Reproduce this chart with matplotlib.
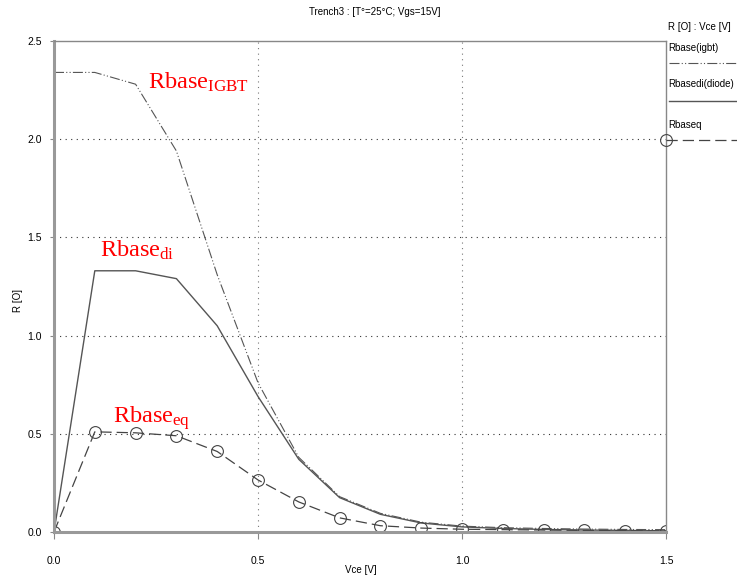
import matplotlib
matplotlib.use("Agg")
import matplotlib.pyplot as plt
from matplotlib.lines import Line2D

plt.rcParams['font.family'] = ['Liberation Sans', 'DejaVu Sans']
plt.rcParams['mathtext.fontset'] = 'custom'
plt.rcParams['mathtext.rm'] = 'Liberation Serif'
plt.rcParams['mathtext.it'] = 'Liberation Serif'

vce = [0.0, 0.1, 0.2, 0.3, 0.4, 0.5, 0.6, 0.7, 0.8, 0.9, 1.0, 1.1, 1.2, 1.3, 1.4, 1.5]
r_igbt = [2.34, 2.34, 2.28, 1.94, 1.31, 0.76, 0.38, 0.18, 0.095, 0.05, 0.03, 0.022, 0.018, 0.015, 0.013, 0.012]
r_diode = [0.0, 1.33, 1.33, 1.29, 1.05, 0.69, 0.37, 0.175, 0.09, 0.046, 0.026, 0.018, 0.013, 0.01, 0.008, 0.006]
r_eq = [0.0, 0.51, 0.505, 0.49, 0.41, 0.265, 0.153, 0.072, 0.032, 0.02, 0.014, 0.012, 0.01, 0.008, 0.007, 0.005]

xticks = [0.0, 0.5, 1.0, 1.5]
yticks = [0.0, 0.5, 1.0, 1.5, 2.0, 2.5]

W, H = 737, 577
fig = plt.figure(figsize=(W / 100, H / 100), dpi=100)
ax = fig.add_axes([54 / W, (H - 532) / H, 612 / W, 491 / H])

ax.plot(vce, r_igbt, color='#555555', lw=0.8, linestyle=(0, (9, 2, 1, 2, 1, 2)))
ax.plot(vce, r_diode, color='#555555', lw=1.0, linestyle='-')
ax.plot(vce, r_eq, color='#444444', lw=0.9, linestyle=(0, (9, 4)),
        marker='o', markersize=8.5, markerfacecolor='none', markeredgecolor='#444444',
        markeredgewidth=0.8)

ax.set_xlim(0, 1.5)
ax.set_ylim(0, 2.5)
ax.set_xticks(xticks)
ax.set_yticks(yticks)
ax.set_xticklabels([f"{t:.1f}" for t in xticks])
ax.set_yticklabels([f"{t:.1f}" for t in yticks])
ax.tick_params(axis='x', direction='out', length=5, pad=12, labelsize=7.5, color='#888888')
ax.tick_params(axis='y', direction='out', length=3, pad=6, labelsize=7.5, color='#888888')

for y in [0.5, 1.0, 1.5, 2.0]:
    ax.axhline(y, color='#333333', lw=0.8, linestyle=(0, (1, 4)), zorder=0)
for x in [0.5, 1.0]:
    ax.axvline(x, color='#777777', lw=0.8, linestyle=(0, (1, 4)), zorder=0)

for s in ['top', 'right']:
    ax.spines[s].set_color('#888888')
    ax.spines[s].set_linewidth(1.0)
for s in ['left', 'bottom']:
    ax.spines[s].set_color('#999999')
    ax.spines[s].set_linewidth(2.2)

ax.text(0.23, 2.255, r'$\mathrm{Rbase}_{\mathrm{IGBT}}$', color='red', fontsize=17.5)
ax.text(0.113, 1.40, r'$\mathrm{Rbase}_{\mathrm{di}}$', color='red', fontsize=17.5)
ax.text(0.145, 0.556, r'$\mathrm{Rbase}_{\mathrm{eq}}$', color='red', fontsize=17.5)

fig.text(375 / W, 1 - 12 / H, 'Trench3 : [T°=25°C; Vgs=15V]', ha='center', va='center', fontsize=7)
fig.text(361 / W, 1 - 570 / H, 'Vce [V]', ha='center', va='center', fontsize=7)
fig.text(18 / W, 1 - 300 / H, 'R [O]', ha='center', va='center', rotation=90, fontsize=7)

# legend (right side)
fig.text(668 / W, 1 - 27 / H, 'R [O] : Vce [V]', ha='left', va='center', fontsize=7)
fig.text(668 / W, 1 - 48 / H, 'Rbase(igbt)', ha='left', va='center', fontsize=7)
fig.text(668 / W, 1 - 84 / H, 'Rbasedi(diode)', ha='left', va='center', fontsize=7)
fig.text(668 / W, 1 - 125 / H, 'Rbaseq', ha='left', va='center', fontsize=7)
fig.add_artist(Line2D([669 / W, 737 / W], [1 - 63 / H, 1 - 63 / H], transform=fig.transFigure,
                      color='#555555', lw=0.8, linestyle=(0, (9, 2, 1, 2, 1, 2))))
fig.add_artist(Line2D([669 / W, 737 / W], [1 - 101 / H, 1 - 101 / H], transform=fig.transFigure,
                      color='#555555', lw=1.0))
fig.add_artist(Line2D([666 / W, 737 / W], [1 - 140 / H, 1 - 140 / H], transform=fig.transFigure,
                      color='#444444', lw=0.9, linestyle=(0, (9, 4))))
fig.add_artist(Line2D([666 / W], [1 - 140 / H], transform=fig.transFigure, marker='o',
                      markersize=8.5, markerfacecolor='none', markeredgecolor='#444444',
                      markeredgewidth=0.8, linestyle='none'))

fig.savefig('out.png', dpi=100)
